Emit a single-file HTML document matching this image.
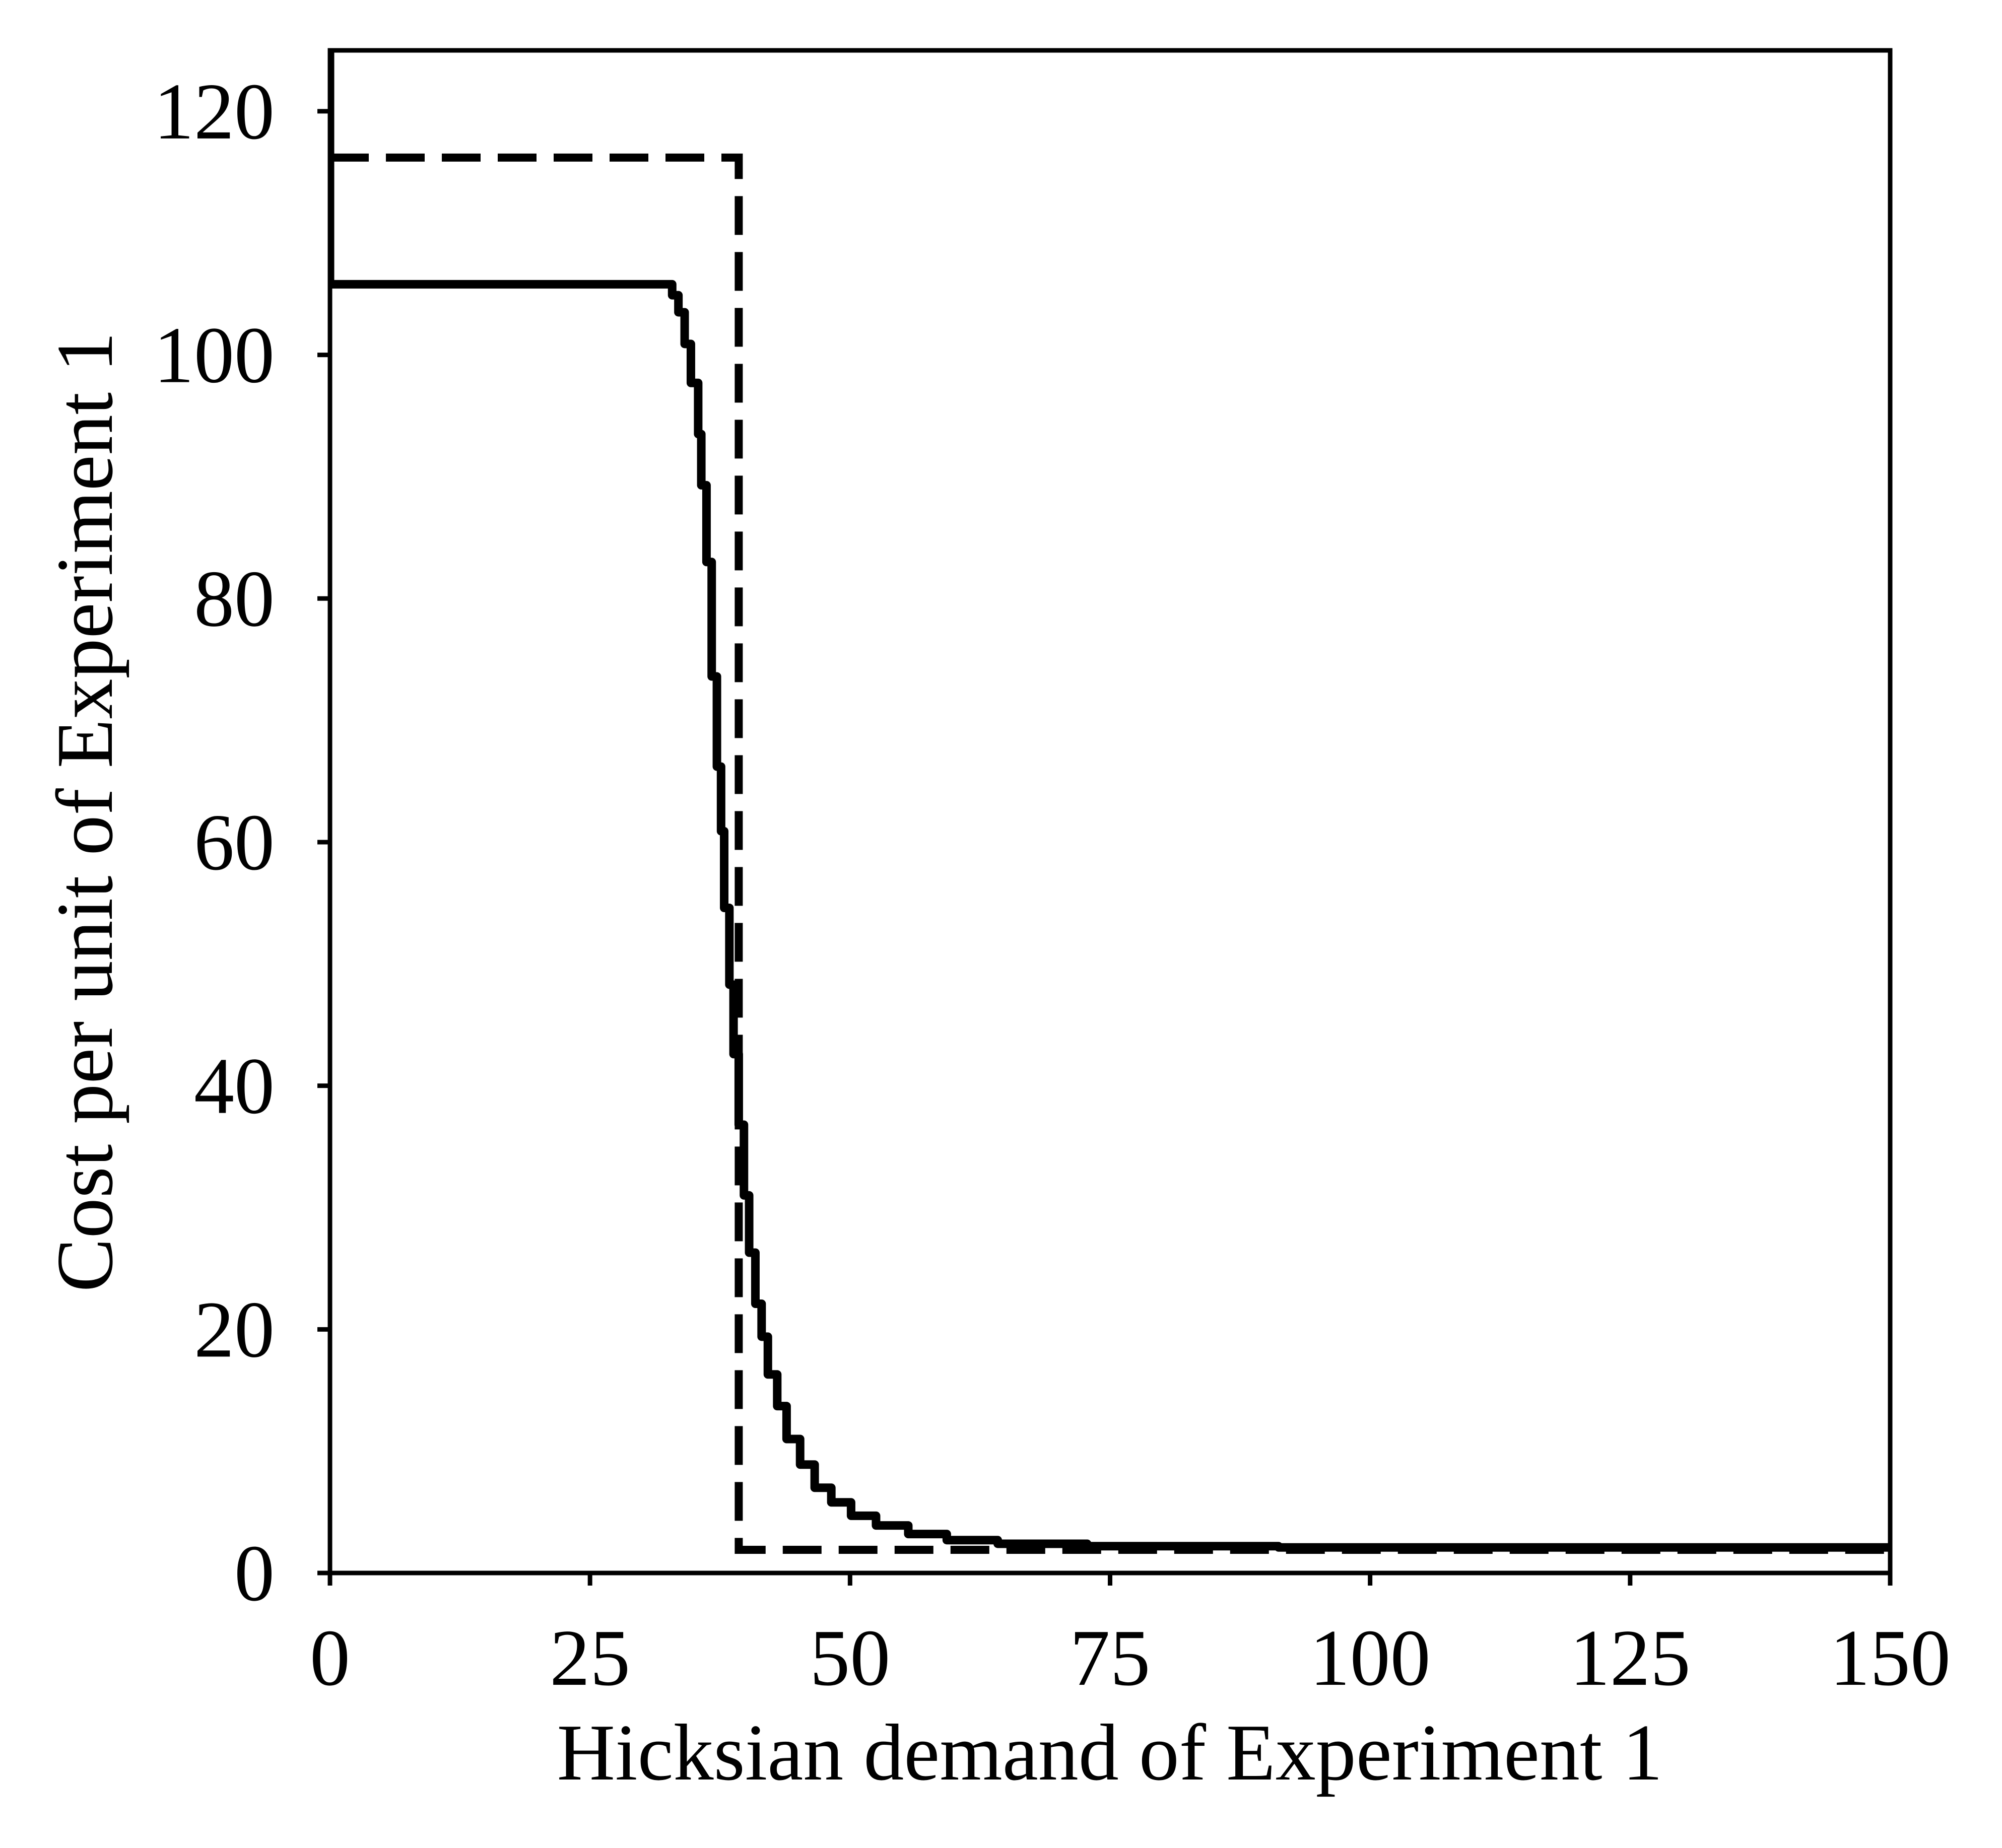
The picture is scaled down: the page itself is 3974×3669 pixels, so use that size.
<!DOCTYPE html>
<html><head><meta charset="utf-8"><style>
html,body{margin:0;padding:0;background:#fff;}
svg{display:block;}
text{font-family:"Liberation Serif",serif;fill:#000;}
</style></head><body>
<svg id="chart" width="3974" height="3669" viewBox="0 0 3974 3669" xmlns="http://www.w3.org/2000/svg">
<rect width="3974" height="3669" fill="#fff"/>
<g id="marks"></g>
<g id="axes"></g>
<text x="2203" y="3533" font-size="160" text-anchor="middle">Hicksian demand of Experiment 1</text>
<text transform="translate(222,1612) rotate(-90)" font-size="160" text-anchor="middle">Cost per unit of Experiment 1</text>
</svg>
<script>
const xTicks = [0, 25, 50, 75, 100, 125, 150];
const yTicks = [0, 20, 40, 60, 80, 100, 120];
const solidX = [0, 0, 32, 32.9, 33.5, 34.1, 34.7, 35.4, 35.7, 36.2, 36.7, 37.2, 37.6, 37.9, 38.4, 38.8, 39.3, 39.8, 40.3, 40.9, 41.5, 42.1, 43.0, 43.9, 45.2, 46.6, 48.2, 50.1, 52.5, 55.6, 59.3, 64.2, 72.8, 91.2, 150];
const solidY = [127, 105.8, 105.8, 104.9, 103.5, 100.9, 97.7, 93.5, 89.3, 83.0, 73.6, 66.2, 60.9, 54.6, 48.3, 42.6, 36.8, 31.0, 26.3, 22.1, 19.4, 16.3, 13.7, 11.0, 8.9, 7.0, 5.8, 4.7, 3.9, 3.2, 2.7, 2.4, 2.2, 2.1, 2.05];
const dashX = [0, 39.3, 39.3, 150];
const dashY = [116.2, 116.2, 1.9, 1.9];

const L = 655, R = 3752, T = 100, B = 3123;
const XMIN = 0, XMAX = 150, YMIN = 0, YMAX = 125;
const sx = v => L + (v - XMIN) / (XMAX - XMIN) * (R - L);
const sy = v => B - (v - YMIN) / (YMAX - YMIN) * (B - T);
const NS = 'http://www.w3.org/2000/svg';
const marks = document.getElementById('marks');
const axes = document.getElementById('axes');

const clip = document.createElementNS(NS, 'clipPath');
clip.setAttribute('id', 'clipArea');
const cr = document.createElementNS(NS, 'rect');
cr.setAttribute('x', L); cr.setAttribute('y', T);
cr.setAttribute('width', R - L); cr.setAttribute('height', B - T);
clip.appendChild(cr);
document.getElementById('chart').appendChild(clip);
marks.setAttribute('clip-path', 'url(#clipArea)');

function stepPath(xs, ys) {
  let d = 'M' + sx(xs[0]) + ' ' + sy(ys[0]);
  for (let i = 1; i < xs.length; i++) {
    d += ' L' + sx(xs[i]) + ' ' + sy(ys[i - 1]);
    d += ' L' + sx(xs[i]) + ' ' + sy(ys[i]);
  }
  return d;
}
function plainPath(xs, ys) {
  return xs.map((x, i) => (i ? 'L' : 'M') + sx(x) + ' ' + sy(ys[i])).join(' ');
}

const dash = document.createElementNS(NS, 'path');
dash.setAttribute('d', plainPath(dashX, dashY));
dash.setAttribute('fill', 'none');
dash.setAttribute('stroke', '#000');
dash.setAttribute('stroke-width', '16');
dash.setAttribute('stroke-dasharray', '77 34');


marks.appendChild(dash);

const solid = document.createElementNS(NS, 'path');
solid.setAttribute('d', stepPath(solidX, solidY));
solid.setAttribute('fill', 'none');
solid.setAttribute('stroke', '#000');
solid.setAttribute('stroke-width', '17');
solid.setAttribute('stroke-linejoin', 'round');


marks.appendChild(solid);

const frame = document.createElementNS(NS, 'rect');
frame.setAttribute('x', L); frame.setAttribute('y', T);
frame.setAttribute('width', R - L); frame.setAttribute('height', B - T);
frame.setAttribute('fill', 'none'); frame.setAttribute('stroke', '#000');
frame.setAttribute('stroke-width', '9');


axes.appendChild(frame);

xTicks.forEach(v => {
  const t = document.createElementNS(NS, 'line');
  t.setAttribute('x1', sx(v)); t.setAttribute('x2', sx(v));
  t.setAttribute('y1', B); t.setAttribute('y2', B + 25);
  t.setAttribute('stroke', '#000'); t.setAttribute('stroke-width', '9');
  
  
  axes.appendChild(t);
  const lb = document.createElementNS(NS, 'text');
  lb.setAttribute('x', sx(v)); lb.setAttribute('y', 3345);
  lb.setAttribute('font-size', '160'); lb.setAttribute('text-anchor', 'middle');
  lb.textContent = v;
  
  
  axes.appendChild(lb);
});
yTicks.forEach(v => {
  const t = document.createElementNS(NS, 'line');
  t.setAttribute('x1', L - 25); t.setAttribute('x2', L);
  t.setAttribute('y1', sy(v)); t.setAttribute('y2', sy(v));
  t.setAttribute('stroke', '#000'); t.setAttribute('stroke-width', '9');
  
  
  axes.appendChild(t);
  const lb = document.createElementNS(NS, 'text');
  lb.setAttribute('x', 545); lb.setAttribute('y', sy(v) + 54);
  lb.setAttribute('font-size', '160'); lb.setAttribute('text-anchor', 'end');
  lb.textContent = v;
  
  
  axes.appendChild(lb);
});
</script>
</body></html>
